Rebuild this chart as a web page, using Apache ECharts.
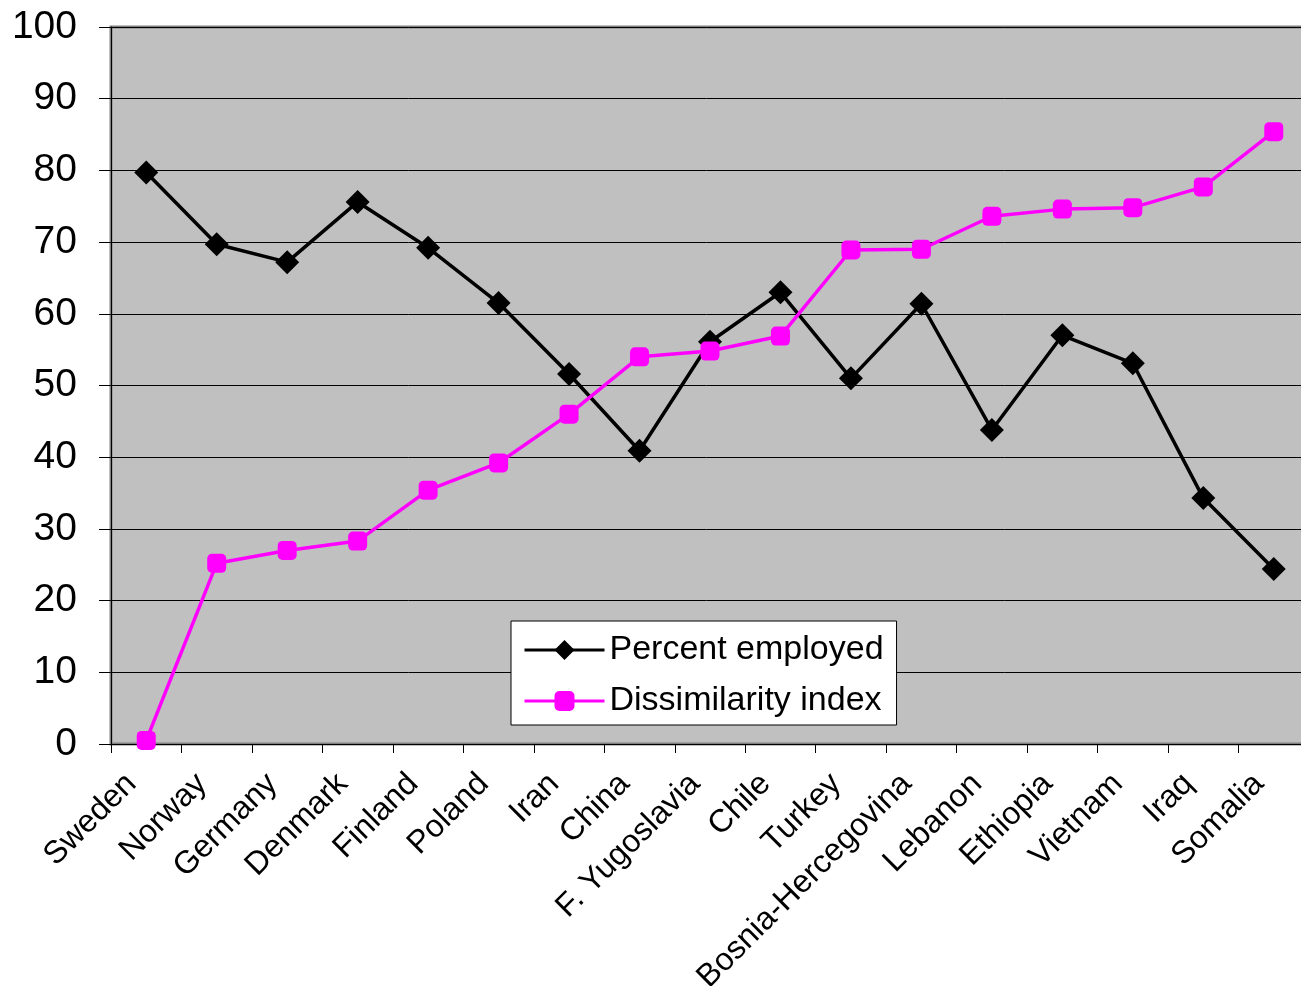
<!DOCTYPE html>
<html>
<head>
<meta charset="utf-8">
<script src="https://cdn.jsdelivr.net/npm/echarts@6/dist/echarts.min.js"></script>
<style>
  html, body { margin: 0; padding: 0; background: #ffffff; }
  #chart { width: 1301px; height: 986px; }
</style>
</head>
<body>
<div id="chart"></div>
<script>
var categories = ["Sweden", "Norway", "Germany", "Denmark", "Finland", "Poland", "Iran", "China", "F. Yugoslavia", "Chile", "Turkey", "Bosnia-Hercegovina", "Lebanon", "Ethiopia", "Vietnam", "Iraq", "Somalia"];
var percentEmployed = [79.7, 69.7, 67.2, 75.6, 69.2, 61.5, 51.6, 40.9, 56.1, 63.0, 51.0, 61.4, 43.8, 57.0, 53.1, 34.3, 24.4];
var dissimilarityIndex = [0.5, 25.2, 27.0, 28.3, 35.4, 39.2, 46.0, 54.0, 54.8, 56.9, 68.9, 69.0, 73.6, 74.6, 74.8, 77.7, 85.4];
var seriesNames = ["Percent employed", "Dissimilarity index"];

var FONT = "'Liberation Sans', Arial, sans-serif";
var chart = echarts.init(document.getElementById('chart'), null, { renderer: 'canvas' });
chart.setOption({
  animation: false,
  backgroundColor: '#ffffff',
  textStyle: { fontFamily: FONT },
  grid: {
    left: 111, top: 27, right: -8, bottom: 242,
    containLabel: false,
    outerBoundsMode: 'none',
    show: true,
    backgroundColor: '#C0C0C0',
    borderColor: '#808080',
    borderWidth: 3
  },
  legend: {
    orient: 'vertical',
    left: 511,
    top: 621,
    backgroundColor: '#ffffff',
    borderColor: '#000000',
    borderWidth: 1,
    borderRadius: 0,
    padding: [12, 13, 7, 12],
    itemWidth: 80,
    itemHeight: 25,
    itemGap: 17,
    itemTextGap: 10,
    itemStyle: { borderWidth: 0 },
    lineStyle: { width: 3 },
    textStyle: { fontSize: 34, color: '#000', fontFamily: FONT },
    data: seriesNames
  },
  xAxis: {
    type: 'category',
    data: categories,
    boundaryGap: true,
    axisLine: { show: true, lineStyle: { color: '#000', width: 1 } },
    axisTick: { show: true, length: 9, alignWithLabel: false, lineStyle: { color: '#000' } },
    axisLabel: {
      rotate: 45,
      interval: 0,
      margin: 20,
      padding: [0, 21, 0, 0],
      fontSize: 32,
      color: '#000',
      fontFamily: FONT
    },
    splitLine: { show: false }
  },
  yAxis: {
    type: 'value',
    min: 0, max: 100, interval: 10,
    axisLine: { show: true, lineStyle: { color: '#000', width: 1 } },
    axisTick: { show: true, length: 12, lineStyle: { color: '#000' } },
    axisLabel: { fontSize: 39, color: '#000', margin: 34, fontFamily: FONT },
    splitLine: { show: true, lineStyle: { color: '#000', width: 1 } }
  },
  series: [
    {
      name: seriesNames[0],
      type: 'line',
      data: percentEmployed,
      symbol: 'diamond',
      symbolSize: 24,
      lineStyle: { color: '#000000', width: 3.5 },
      itemStyle: { color: '#000000' },
      z: 3
    },
    {
      name: seriesNames[1],
      type: 'line',
      data: dissimilarityIndex,
      symbol: 'roundRect',
      symbolSize: 19,
      lineStyle: { color: '#FF00FF', width: 3.5 },
      itemStyle: { color: '#FF00FF' },
      z: 4
    }
  ]
});
</script>
</body>
</html>
